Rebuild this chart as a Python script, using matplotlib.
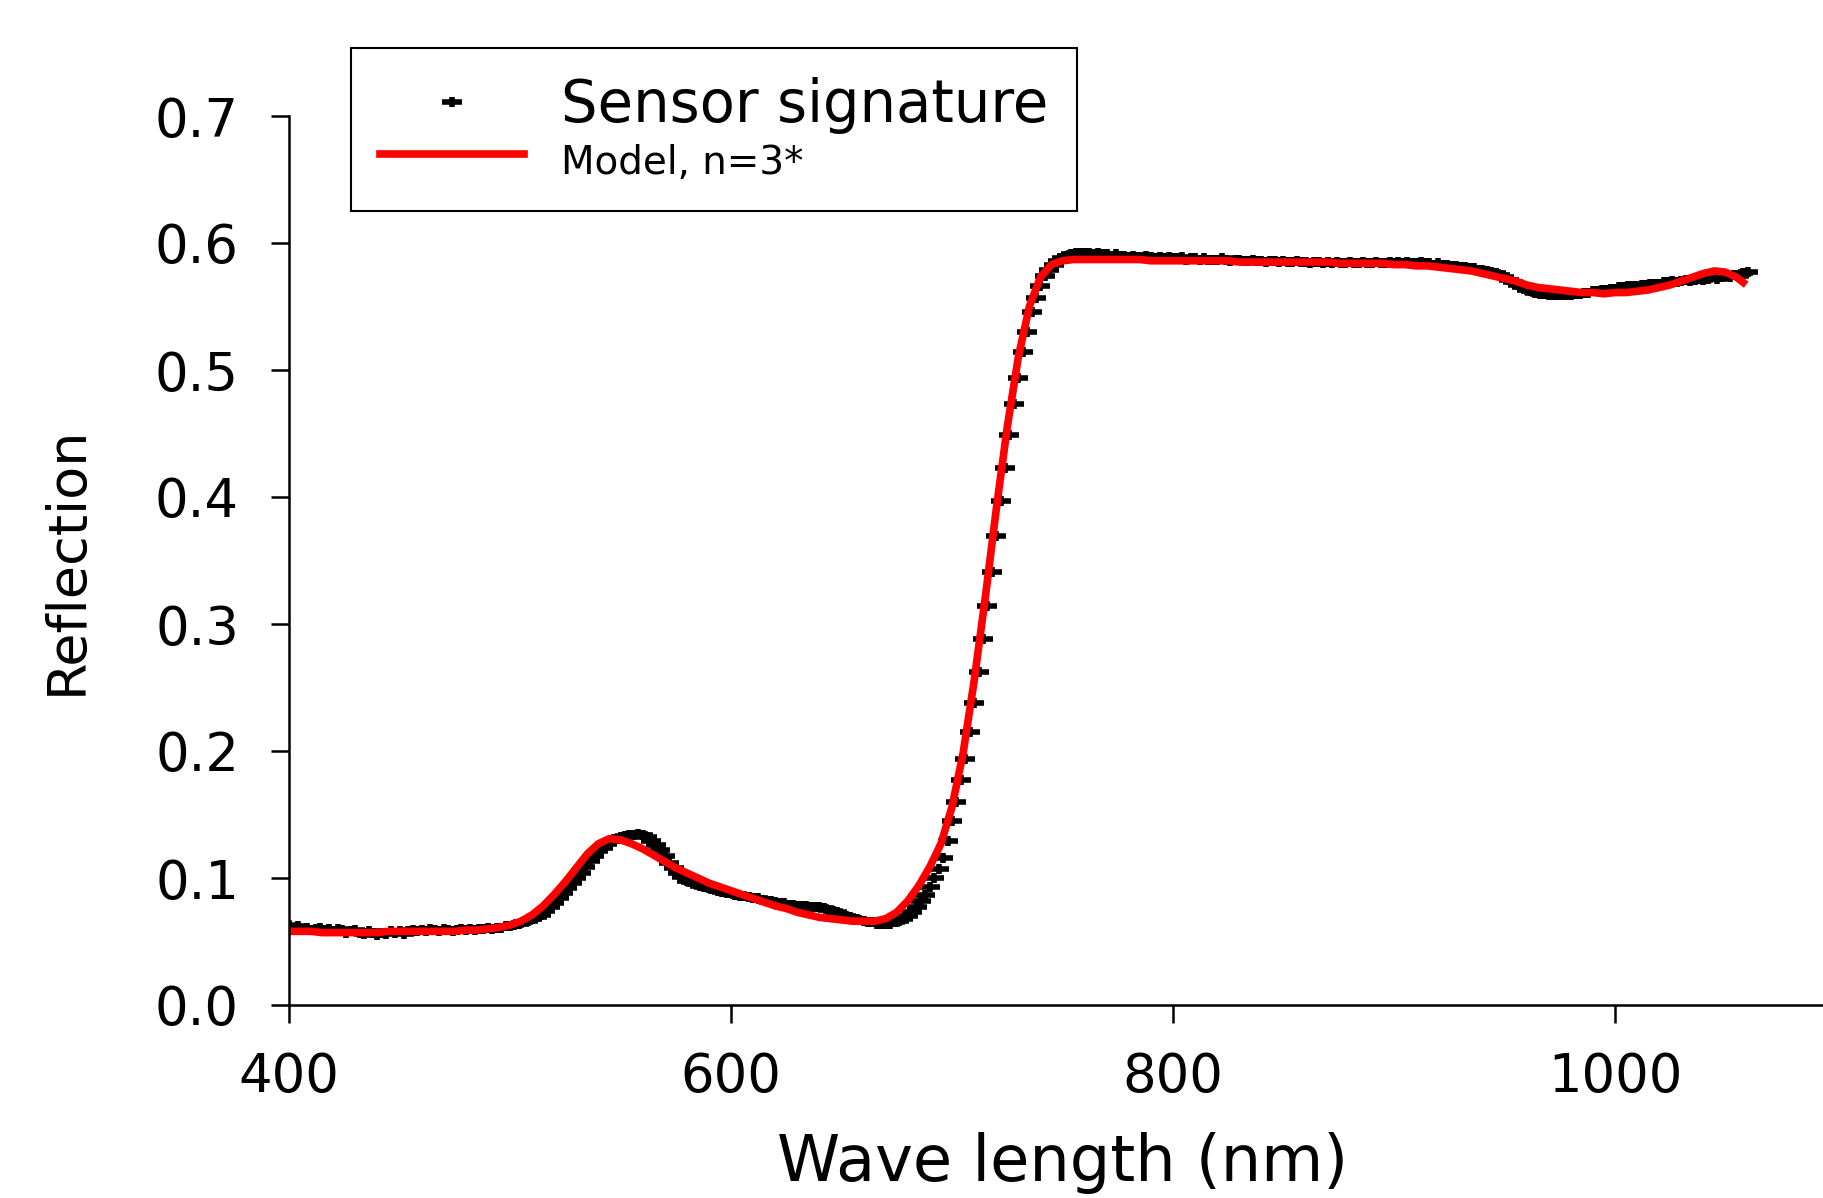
import numpy as np
import matplotlib
matplotlib.use("Agg")
import matplotlib.pyplot as plt
from matplotlib.path import Path
from matplotlib.ticker import FormatStrFormatter

plt.rcParams['font.family'] = ['DejaVu Sans']

# sensor signature, one value every 2 nm from 400 to 1060 nm
sensor_wl = np.arange(400, 1061, 2)
sensor = [
    0.063, 0.061, 0.062, 0.060, 0.061, 0.059, 0.060, 0.061, 0.059, 0.060,
    0.058, 0.060, 0.059, 0.057, 0.058, 0.059, 0.057, 0.056, 0.058, 0.057,
    0.055, 0.057, 0.056, 0.058, 0.057, 0.058, 0.056, 0.058, 0.059, 0.058,
    0.059, 0.058, 0.060, 0.059, 0.058, 0.060, 0.059, 0.058, 0.059, 0.060,
    0.059, 0.060, 0.059, 0.060, 0.060, 0.061, 0.060, 0.061, 0.061, 0.062,
    0.062, 0.063, 0.064, 0.065, 0.066, 0.068, 0.069, 0.071, 0.074, 0.077,
    0.080, 0.084, 0.088, 0.092, 0.096, 0.100, 0.104, 0.109, 0.113, 0.117,
    0.121, 0.124, 0.127, 0.129, 0.131, 0.132, 0.133, 0.134, 0.134, 0.135,
    0.134, 0.132, 0.129, 0.126, 0.122, 0.117, 0.112, 0.108, 0.104, 0.101,
    0.098, 0.097, 0.095, 0.094, 0.093, 0.092, 0.091, 0.090, 0.089, 0.088,
    0.088, 0.087, 0.086, 0.086, 0.085, 0.084, 0.084, 0.083, 0.082, 0.082,
    0.081, 0.080, 0.080, 0.079, 0.079, 0.078, 0.078, 0.078, 0.077, 0.077,
    0.077, 0.076, 0.075, 0.074, 0.073, 0.071, 0.070, 0.069, 0.068, 0.067,
    0.066, 0.065, 0.065, 0.064, 0.064, 0.064, 0.064, 0.065, 0.066, 0.068,
    0.070, 0.073, 0.077, 0.082, 0.087, 0.093, 0.100, 0.107, 0.116, 0.129,
    0.145, 0.160, 0.177, 0.194, 0.215, 0.238, 0.262, 0.288, 0.314, 0.341,
    0.369, 0.397, 0.423, 0.449, 0.473, 0.494, 0.514, 0.530, 0.546, 0.557,
    0.566, 0.574, 0.579, 0.583, 0.586, 0.588, 0.590, 0.591, 0.592, 0.592,
    0.592, 0.592, 0.591, 0.592, 0.591, 0.591, 0.590, 0.591, 0.590, 0.590,
    0.589, 0.590, 0.589, 0.589, 0.590, 0.589, 0.588, 0.589, 0.588, 0.589,
    0.588, 0.588, 0.589, 0.587, 0.588, 0.588, 0.587, 0.588, 0.587, 0.587,
    0.587, 0.588, 0.587, 0.586, 0.587, 0.587, 0.586, 0.586, 0.587, 0.586,
    0.586, 0.585, 0.586, 0.586, 0.585, 0.586, 0.585, 0.585, 0.586, 0.585,
    0.585, 0.584, 0.585, 0.585, 0.584, 0.585, 0.584, 0.585, 0.584, 0.584,
    0.585, 0.584, 0.584, 0.585, 0.584, 0.584, 0.585, 0.584, 0.584, 0.585,
    0.584, 0.585, 0.584, 0.585, 0.584, 0.584, 0.585, 0.584, 0.584, 0.583,
    0.584, 0.583, 0.583, 0.582, 0.582, 0.581, 0.581, 0.580, 0.580, 0.579,
    0.579, 0.578, 0.577, 0.576, 0.575, 0.573, 0.571, 0.569, 0.567, 0.565,
    0.563, 0.562, 0.561, 0.560, 0.560, 0.559, 0.559, 0.559, 0.559, 0.559,
    0.559, 0.560, 0.560, 0.561, 0.561, 0.562, 0.562, 0.563, 0.563, 0.564,
    0.564, 0.565, 0.565, 0.566, 0.566, 0.566, 0.567, 0.567, 0.568, 0.568,
    0.568, 0.569, 0.569, 0.570, 0.569, 0.570, 0.571, 0.570, 0.571, 0.572,
    0.571, 0.572, 0.573, 0.572, 0.573, 0.574, 0.573, 0.575, 0.574, 0.576,
    0.577,
]

# model curve (n=3), every 5 nm plus the last point
model_wl = list(range(400, 1056, 5)) + [1058]
model = [
    0.058, 0.058, 0.058, 0.057, 0.057, 0.057, 0.057, 0.057, 0.057, 0.058,
    0.058, 0.058, 0.058, 0.058, 0.058, 0.058, 0.059, 0.059, 0.060, 0.061,
    0.063, 0.066, 0.071, 0.078, 0.087, 0.097, 0.108, 0.119, 0.127, 0.131,
    0.130, 0.127, 0.123, 0.118, 0.113, 0.108, 0.104, 0.100, 0.096, 0.093,
    0.090, 0.087, 0.084, 0.081, 0.078, 0.076, 0.073, 0.071, 0.069, 0.068,
    0.067, 0.066, 0.066, 0.066, 0.068, 0.073, 0.082, 0.094, 0.109, 0.127,
    0.156, 0.198, 0.255, 0.320, 0.390, 0.455, 0.510, 0.550, 0.573, 0.583,
    0.586, 0.587, 0.587, 0.587, 0.587, 0.587, 0.587, 0.587, 0.586, 0.586,
    0.586, 0.586, 0.586, 0.586, 0.586, 0.586, 0.585, 0.585, 0.585, 0.585,
    0.585, 0.585, 0.585, 0.585, 0.585, 0.584, 0.584, 0.584, 0.584, 0.584,
    0.583, 0.583, 0.582, 0.582, 0.581, 0.580, 0.579, 0.578, 0.576, 0.574,
    0.572, 0.570, 0.567, 0.565, 0.564, 0.563, 0.562, 0.561, 0.561, 0.560,
    0.561, 0.561, 0.562, 0.563, 0.565, 0.567, 0.570, 0.573, 0.576, 0.578,
    0.577, 0.573,
    0.569,
]

xticks = [400, 600, 800, 1000]
yticks = [0.0, 0.1, 0.2, 0.3, 0.4, 0.5, 0.6, 0.7]

# plus-like marker, wider than tall (like the original points)
plus_mark = Path([(-1, 0), (1, 0), (0, -0.5), (0, 0.5)],
                 [Path.MOVETO, Path.LINETO, Path.MOVETO, Path.LINETO])

fig = plt.figure(figsize=(18.24, 11.98), dpi=100)
ax = fig.add_axes([289 / 1824, 193 / 1198, 1547 / 1824, 889 / 1198])

ax.plot(sensor_wl, sensor, linestyle='none', marker=plus_mark, markersize=15,
        markeredgewidth=4, color='black', label='Sensor signature')
ax.plot(model_wl, model, color='#ff0000', linewidth=5.5, label='Model, n=3*')

ax.set_xlim(400, 1100)
ax.set_ylim(0, 0.7)
ax.set_xticks(xticks)
ax.set_yticks(yticks)
ax.yaxis.set_major_formatter(FormatStrFormatter('%.1f'))

for side in ['top', 'right']:
    ax.spines[side].set_visible(False)
for side in ['left', 'bottom']:
    ax.spines[side].set_linewidth(1.8)

ax.tick_params(axis='both', direction='out', length=13, width=1.8, labelsize=38)
ax.tick_params(axis='y', pad=23)
ax.tick_params(axis='x', pad=20)

ax.set_xlabel('Wave length (nm)', fontsize=46)
ax.set_ylabel('Reflection', fontsize=39)
ax.xaxis.set_label_coords(0.5, -0.143)
ax.yaxis.set_label_coords(-0.127, 0.5)

leg = ax.legend(loc='upper left', bbox_to_anchor=(0.040, 1.0765), borderaxespad=0,
                fontsize=41.5, numpoints=1, handlelength=2.5, handletextpad=0.65,
                borderpad=0.5, labelspacing=0.0, fancybox=False, framealpha=1,
                edgecolor='black')
leg.get_frame().set_linewidth(1.5)
leg.get_texts()[1].set_fontsize(28)

fig.savefig('out.png', dpi=100)
